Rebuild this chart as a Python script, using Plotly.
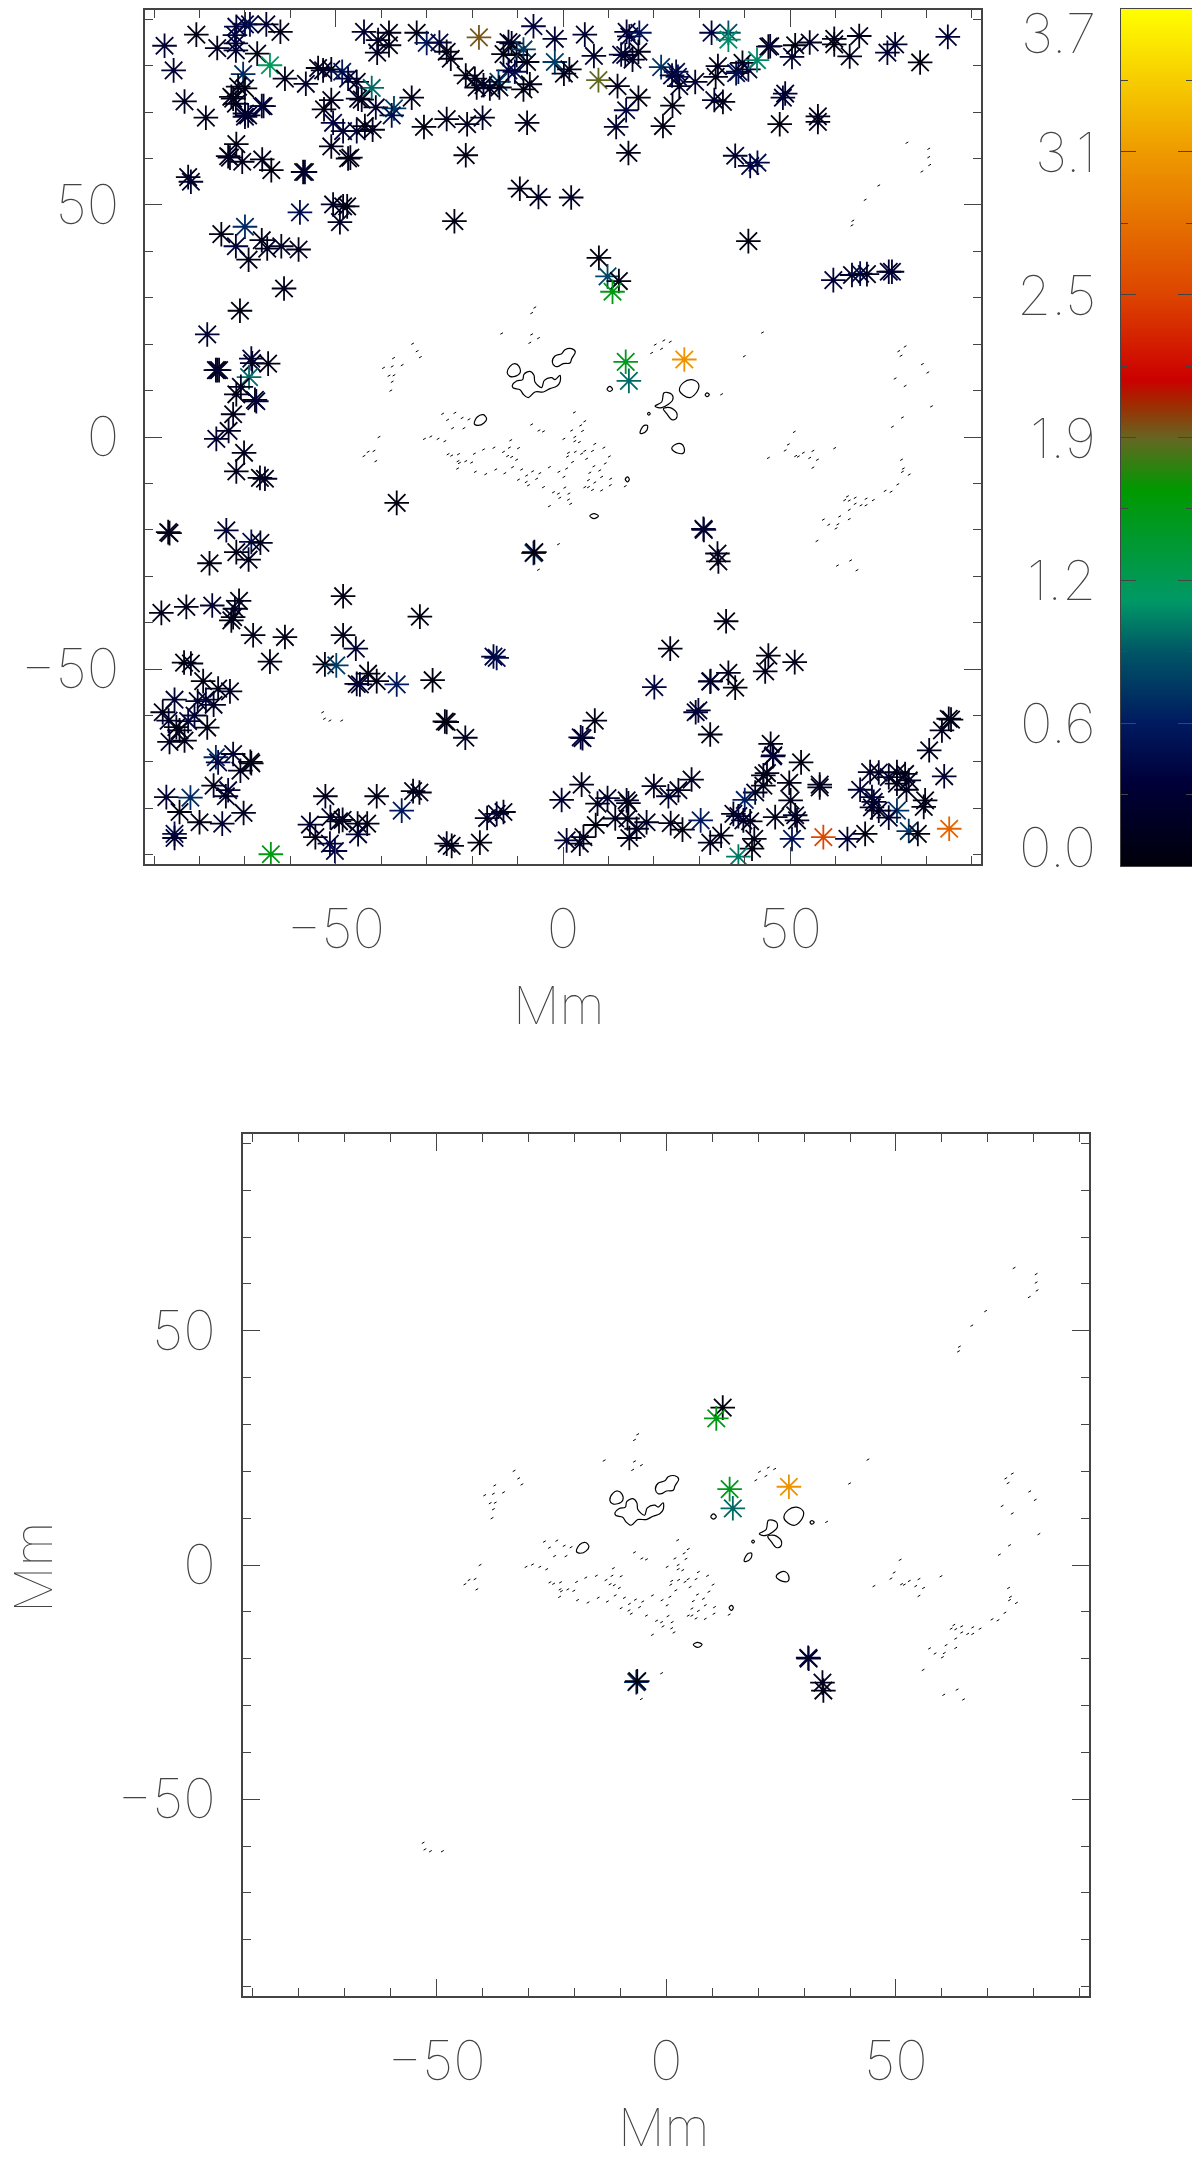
import plotly.graph_objects as go

north_west_x = [-87.7,-80.7,-85.7,-76.1,-71.9,-70.0,-68.9,-72.2,-72.0,-72.0,
                -65.3,-62.2,-67.3,-64.5,-61.2,-56.6,-70.4,-53.9,-52.8,-51.0,
                -48.6,-47.3,-45.4,-42.1,-51.0,-52.6,-45.1,-44.3,-41.2,-37.2,
                -37.7,-33.3,-50.6,-48.4,-45.4,-43.6,-41.9,-51.0,-47.3,-46.8,
                -30.6,-25.6,-21.1,-17.7,-7.9,-21.4,-9.5,-5.4,-23.9,-43.8,
                -40.7,-38.3,-38.3,-40.9,-32.2,-30.0,-27.2,-25.6,-24.7,-18.5,
                -6.5,-12.0,-11.3,-13.1,-10.2,-8.7,-7.9,-10.6,-12.0,-14.2,
                -21.4,-19.4,-19.0,-17.5,-16.1,-14.0,-8.7,-7.3,-72.6,-73.0,
                -70.0,-71.5,-72.0,-70.0,-70.0,-66.3,-65.9,-69.3,-83.3,-78.6,
                -71.9,-73.7,-73.3,-70.6,-66.2,-64.2,-57.2,-56.8,-82.5,-81.9,
                -57.9,-70.0,-75.2,-72.0,-69.2,-66.3,-65.1,-62.0,-58.2,-61.4,
                -50.6,-48.4,-47.5,-49.1]
north_west_y = [84.3,86.7,79.0,83.8,88.4,88.9,88.9,86.6,84.8,83.3,
                88.9,87.3,82.6,80.1,77.2,76.1,78.2,79.5,79.0,79.2,
                78.7,77.2,76.5,75.2,72.6,70.6,72.9,72.7,71.0,70.8,
                69.3,73.1,67.7,65.9,65.9,67.0,66.2,62.6,60.0,60.2,
                66.8,68.5,67.4,68.8,67.7,60.7,53.5,51.7,46.5,87.3,
                85.5,87.1,84.4,82.8,87.1,84.9,85.0,83.0,81.5,86.1,
                88.5,85.1,84.8,82.5,82.3,83.5,80.8,78.7,79.0,76.5,
                77.9,77.2,75.3,75.8,75.1,75.3,74.9,76.0,72.9,73.3,
                75.1,75.5,71.8,69.7,69.0,71.3,71.3,69.3,72.3,68.8,
                63.1,60.5,60.2,59.3,59.8,57.5,57.1,57.1,56.0,55.0,
                48.4,45.3,43.7,41.1,38.2,42.4,40.6,41.1,40.4,32.0,
                50.1,49.7,49.7,46.3]
north_west_v = [.3,.1,.3,.2,.4,.4,.5,.4,.4,.3,
                .3,.1,.1,1.2,.15,.3,.7,.1,.2,.2,
                .6,.4,.2,1.0,.15,.1,.2,.1,.3,.8,
                .5,.15,.4,.35,.3,.1,.15,.15,.1,.1,
                .05,.15,.15,.2,.15,.1,.1,.2,.1,.3,
                .2,.1,.1,.2,.1,.6,.4,.1,.1,1.9,
                .4,.2,.2,.1,.1,.8,.1,.5,.4,.8,
                .1,.1,.1,.2,.2,.1,.1,.1,.05,.1,
                .05,.1,.15,.3,.3,.4,.3,.3,.2,.15,
                .1,.1,.2,.15,.15,.05,.1,.3,.1,.3,
                .5,.7,.1,.35,.15,.1,.2,.2,.15,.15,
                .2,.15,.1,.2]

west_x = [-71.1,-78.3,-76.4,-75.7,-76.1,-68.6,-68.4,-64.9,-69.1,-70.9,
          -71.9,-67.8,-67.5,-72.6,-73.6,-76.3,-70.2,-71.9,-66.7,-65.6,
          -86.9,-86.6,-74.1,-68.6,-66.6,-71.9,-69.2,-77.8]
west_y = [27.2,22.1,14.4,14.4,14.4,16.9,15.9,15.8,12.9,10.8,
          9.2,8.0,7.7,4.9,1.3,-0.4,-3.4,-7.4,-8.8,-9.0,
          -20.5,-20.7,-20.1,-22.6,-22.8,-24.8,-26.4,-27.2]
west_v = [.05,.3,.1,.1,.3,.4,.2,.1,1.0,.2,
          .1,.15,.35,.15,.2,.3,.15,.15,.1,.2,
          .2,.1,.3,.5,.15,.1,.15,.1]

south_west_x = [-88.4,-82.9,-77.2,-71.3,-72.2,-72.6,-73.0,-68.2,-61.2,-48.4,
                -48.4,-45.6,-31.5,-83.4,-81.9,-64.5,-52.4,-49.9,-15.3,-14.6,
                -42.9,-41.0,-45.4,-44.7,-36.6,-28.7,-79.2,-75.9,-73.3,-85.5,
                -80.4,-78.6,-76.9,-81.1,-88.1,-86.8,-82.5,-85.1,-84.4,-78.3,
                -86.6,-83.3,-26.0,-25.6,-21.5,-76.4,-75.9,-72.6,-68.8,-68.6,
                -71.0,-76.9,-73.7,-74.2,-87.3,-82.0,-84.4,-70.3,-80.0,-75.0,
                -85.5,-85.5,-64.3,-52.3,-41.0,-33.0,-31.6,-35.5,-55.7,-51.2,
                -49.3,-48.5,-45.2,-43.1,-54.5,-45.1,-51.3,-50.2,-25.6,-24.5,
                -18.3,-16.7,-14.6,-13.1]
south_west_y = [-37.9,-36.6,-36.3,-35.3,-37.0,-38.8,-39.5,-42.7,-43.1,-34.3,
                -42.7,-45.6,-38.7,-48.6,-48.8,-48.4,-49.0,-49.2,-47.3,-47.6,
                -51.0,-52.6,-53.2,-53.3,-53.3,-52.4,-52.6,-54.2,-54.8,-56.6,
                -56.9,-56.6,-57.7,-60.0,-59.3,-61.1,-61.2,-62.5,-63.2,-62.6,
                -65.7,-65.4,-61.3,-61.4,-64.8,-69.0,-70.1,-68.3,-70.0,-70.3,
                -71.9,-75.1,-76.1,-77.4,-77.6,-77.7,-80.8,-81.0,-83.0,-83.3,
                -85.5,-86.4,-89.9,-77.4,-77.4,-76.3,-76.6,-80.5,-83.5,-81.9,
                -82.8,-82.5,-83.3,-83.3,-86.2,-85.6,-87.6,-89.2,-87.6,-88.1,
                -87.4,-82.1,-81.2,-80.8]
south_west_v = [.15,.1,.3,.1,.2,.1,.1,.15,.1,.1,
                .15,.3,.05,.05,.15,.15,.1,.8,.4,.5,
                .05,.1,.2,.35,.6,.05,.1,.1,.2,.3,
                .2,.4,.2,.3,.1,.3,.4,.1,.1,.1,
                .2,.1,.1,.05,.2,.7,.4,.3,.05,.1,
                .15,.15,.35,.2,.3,.7,.1,.2,.1,.3,
                .5,.3,1.55,.15,.1,.1,.15,.6,.3,.2,
                .15,.15,.1,.1,.1,.3,.4,.4,.2,.1,
                .05,.2,.3,.2]

north_east_x = [-1.8,4.8,-1.8,0.2,1.4,6.8,7.8,12.0,16.6,13.9,
                11.7,22.0,24.1,14.4,14.0,14.6,16.8,16.6,12.8,13.7,
                15.3,21.6,24.9,25.3,24.0,25.6,29.1,32.7,36.4,36.4,
                34.1,33.6,33.3,35.2,38.1,38.6,39.5,40.8,42.7,45.2,
                45.6,50.4,51.1,54.3,59.7,59.7,63.1,65.2,71.4,73.1,
                78.6,84.7,48.9,48.4,47.7,56.1,56.1,37.9,41.2,42.8,
                1.8,40.8,7.9,9.8,12.3,10.9,59.5,63.6,65.4,66.9,
                71.7,72.4]
north_east_y = [85.8,86.7,80.8,78.3,79.2,82.1,76.9,75.6,73.1,70.4,
                66.8,67.0,71.4,61.2,87.3,86.3,87.1,83.0,82.4,82.3,
                81.3,79.7,78.7,77.6,77.9,75.6,76.5,87.1,87.1,85.6,
                79.9,77.6,72.6,72.2,78.4,78.7,80.6,79.2,81.2,84.1,
                84.2,81.9,84.4,85.0,85.8,84.6,82.0,86.4,82.8,84.6,
                80.7,86.2,74.0,73.1,67.4,69.1,67.9,60.6,58.4,59.1,
                51.6,42.2,38.6,34.6,33.6,31.3,33.8,34.9,35.2,35.1,
                35.6,35.6]
north_east_v = [.3,.3,.8,.15,.15,.3,1.85,.15,.05,.4,
                .25,.1,.1,.1,.35,.35,.55,.1,.4,.3,
                .2,.75,.5,.5,.4,.2,.3,.4,.9,1.1,
                .2,.1,.3,.1,.5,.5,.1,.3,1.1,.1,
                .3,.3,.05,.2,.15,.05,.15,.15,.3,.3,
                .05,.35,.3,.35,.05,.15,.15,.3,.4,.45,
                .2,.05,.05,.85,.05,1.55,.35,.2,.5,.2,
                .3,.3]

centre_x = [13.8,14.5,26.7,-36.6,-6.5,-6.3,30.9,31.0,34.0,34.2]
centre_y = [16.2,12.1,16.7,-14.2,-25.0,-24.8,-19.8,-20.0,-25.1,-26.8]
centre_v = [1.5,1.0,3.05,.05,.7,.05,.3,.3,.2,.1]

south_east_x = [35.9,23.6,45.2,51.0,44.5,36.4,32.5,32.4,37.9,20.1,
                7.0,3.9,4.3,29.2,29.8,32.4,45.7,46.2,46.3,52.4,
                44.1,44.9,44.1,42.3,40.0,28.3,25.4,23.2,20.0,4.1,
                -0.3,7.6,9.8,14.0,14.4,11.5,14.2,18.4,16.2,14.6,
                7.2,23.7,26.3,30.3,34.8,32.4,0.8,4.5,3.7,37.5,
                38.6,39.7,41.2,42.1,41.6,38.6,46.7,51.1,51.5,50.1,
                49.8,50.4,57.3,62.6,66.5,56.5,56.5,85.0,76.1,78.1,
                73.5,79.4,79.7,71.7,69.5,65.4,68.0,68.4,68.0,67.6,
                69.5,71.7,73.5,75.3,76.1,73.5,75.6,80.6,83.4,84.9,
                85.4,83.9]
south_east_y = [-39.7,-45.6,-47.1,-48.5,-50.5,-50.8,-52.6,-52.7,-54.0,-53.9,
                -61.1,-64.7,-64.9,-59.3,-58.9,-64.1,-66.1,-68.8,-68.6,-70.1,
                -72.9,-72.4,-75.1,-76.6,-78.2,-73.8,-76.1,-77.4,-75.2,-74.9,
                -78.2,-79.0,-77.8,-78.3,-78.9,-82.2,-82.2,-83.0,-84.4,-86.4,
                -83.6,-83.2,-84.6,-82.6,-85.9,-87.4,-86.9,-86.2,-87.6,-81.2,
                -81.7,-82.6,-82.8,-86.6,-88.7,-90.4,-81.9,-81.5,-82.6,-78.3,
                -74.5,-86.6,-86.2,-86.6,-85.5,-74.9,-75.5,-84.4,-84.9,-85.5,
                -80.5,-79.7,-78.3,-82.0,-80.5,-76.0,-77.6,-78.6,-79.8,-72.2,
                -72.3,-73.3,-72.2,-72.6,-74.0,-74.7,-76.0,-67.5,-63.2,-60.7,
                -60.9,-73.1]
south_east_v = [.1,.1,.1,.15,.15,.15,.35,.2,.05,.4,
                .1,.35,.3,.3,.35,.1,.1,.35,.3,.05,
                .15,.1,.1,.2,.65,.2,.15,.3,.2,.15,
                .35,.15,.3,.2,.1,.15,.15,.2,.2,.15,
                .05,.15,.05,.6,.15,.15,.35,.15,.2,.2,
                .3,.3,.15,.1,.05,1.05,.15,.3,.15,.15,
                .1,.55,2.5,.35,.05,.2,.1,2.7,.75,.05,
                .75,.1,.1,.3,.2,.35,.35,.35,.2,.2,
                .2,.3,.15,.1,.2,.1,.15,.15,.15,.1,
                .1,.3]

# the few asterisks that are left in the lower panel
core_x = [12.3,10.9,13.8,14.5,26.7,-6.5,-6.3,30.9,31.0,34.0,34.2]
core_y = [33.6,31.3,16.2,12.1,16.7,-25.0,-24.8,-19.8,-20.0,-25.1,-26.8]
core_v = [.05,1.55,1.5,1.0,3.05,.7,.05,.3,.3,.2,.1]

# solid contours, as closed outlines
contour_lines = [
    ([-2.35,-1.76,-0.29,0.44,1.91,2.72,1.91,1.54,0.07,-1.03,-1.76,-2.35],
     [16.16,17.46,17.96,18.82,19.04,18.32,16.88,15.95,15.80,15.23,15.23,16.16]),
    ([-12.26,-11.67,-10.57,-9.69,-9.47,-10.57,-11.67,-12.26],
     [13.79,15.23,15.80,15.23,13.79,13.07,13.07,13.79]),
    ([-11.16,-10.21,-8.88,-8.59,-7.27,-6.39,-6.17,-4.70,-4.11,-2.50,-1.76,-0.66,-0.66,-1.40,-2.86,-4.33,-6.17,-7.64,-8.74,-9.47,-10.94,-11.16],
     [11.14,12.07,12.36,13.51,14.15,13.29,11.85,10.63,12.21,12.79,12.36,13.29,11.85,10.92,10.42,9.70,9.70,8.48,9.20,10.20,10.56,11.14]),
    ([25.62,26.51,28.34,29.81,29.59,27.97,26.51,25.62],
     [10.06,11.71,12.36,11.49,9.91,8.48,8.98,10.06]),
    ([20.26,21.73,22.25,23.94,24.16,23.20,21.73,20.48,20.26],
     [6.68,7.54,9.55,9.20,8.05,7.04,6.32,6.47,6.68]),
    ([22.10,23.57,25.04,24.89,23.94,22.83,22.10],
     [6.11,6.32,5.17,3.95,3.74,5.03,6.11]),
    ([16.96,17.69,18.58,18.43,17.33,16.96],
     [0.86,2.37,2.51,1.44,0.72,0.86]),
    ([23.94,24.82,25.92,26.65,26.51,25.18,23.94],
     [-2.51,-1.58,-1.44,-2.30,-3.45,-3.45,-2.51]),
    ([-19.53,-18.87,-17.55,-16.81,-17.40,-18.65,-19.53],
     [2.87,4.31,4.81,3.95,3.02,2.51,2.87]),
    ([9.7,10.3,10.9,10.3,9.7], [10.3,10.9,10.3,9.8,10.3]),
    ([31.3,31.7,32.2,31.7,31.3], [9.1,9.5,9.1,8.7,9.1]),
    ([18.6,18.9,19.2,18.9,18.6], [5.0,5.3,5.0,4.7,5.0]),
    ([13.7,14.2,14.6,14.2,13.7], [-9.1,-8.6,-9.1,-9.7,-9.1]),
    ([5.9,6.8,7.8,6.8,5.9], [-17.0,-16.5,-17.0,-17.6,-17.0]),
]

# negative contour, only little dashes of it show
dash_x = [-6.2,-6.9,-13.5,-6.9,-5.4,-7.3,-33.1,-32.1,-31.4,-37.3,-39.5,-37.6,-35.4,-38.3,-37.2,-37.6,-37.9,
          22.2,23.6,20.3,21.7,19.5,34.9,-26.5,-23.8,-22.2,-20.7,-25.4,-24.3,-21.8,-6.9,-5.3,-4.3,
          2.5,4.8,3.9,1.9,4.3,0.2,2.6,2.6,3.6,-40.5,-30.5,-29.1,-27.5,-26.0,-41.6,-42.9,-43.8,-41.2,
          -11.5,-11.8,-9.8,-13.1,-12.2,-11.3,-10.2,-25.3,-24.5,-23.0,-23.1,-22.8,-21.4,-20.1,-19.5,-17.5,-15.2,
          -23.2,-19.3,-17.0,-14.8,-12.8,-11.1,-9.1,-8.0,-6.7,-5.1,-3.0,-0.9,0.8,
          1.2,1.0,2.7,2.1,4.1,4.8,6.5,7.0,9.0,10.2,9.3,5.2,6.8,8.1,5.9,8.5,10.5,5.6,7.0,5.6,4.8,6.5,8.5,10.4,
          -9.8,-8.1,-7.6,-5.8,-4.3,-2.1,-1.0,0.2,0.4,-0.7,1.3,1.2,1.7,-3.0,13.7,-1.0,-5.4,
          75.7,80.5,80.5,80.7,79.0,69.5,66.5,63.8,63.6,-52.9,-52.5,-51.3,-48.7,
          43.9,39.9,75.3,73.9,74.4,79.1,80.3,73.1,75.3,81.1,74.7,72.5,50.9,49.6,48.9,45.2,51.2,51.8,52.9,55.0,54.3,56.0,55.0,59.8,
          74.5,74.9,74.7,76.2,73.7,70.9,72.2,62.6,62.0,63.0,64.3,64.3,66.7,68.3,65.6,66.7,63.0,60.9,63.0,57.3,58.5,60.5,60.1,55.9,60.4,63.3,64.7]
dash_y = [27.9,26.7,22.3,22.1,21.3,20.3,20.1,18.5,17.2,17.0,14.9,15.2,15.5,13.2,13.3,11.9,10.0,
          20.8,20.5,19.9,19.0,18.1,9.2,5.0,5.2,4.1,3.8,3.7,1.9,1.9,2.7,1.4,1.2,
          5.3,3.4,2.5,1.4,1.3,-0.4,0.0,-0.9,-1.1,0.0,-0.4,0.1,-0.4,-0.9,-3.0,-3.2,-4.1,-5.2,
          -0.7,-2.3,-2.4,-3.2,-4.1,-4.3,-4.9,-3.7,-4.0,-3.7,-5.2,-5.6,-5.2,-5.5,-3.6,-2.7,-2.3,
          -6.8,-7.5,-8.0,-7.0,-7.8,-6.5,-7.0,-8.3,-7.4,-7.8,-6.5,-7.5,-6.8,
          -3.4,-4.2,-3.2,-5.4,-3.6,-3.0,-3.0,-1.5,-2.3,-4.2,-5.7,-4.7,-6.3,-7.2,-7.7,-8.6,-9.0,-9.3,-9.8,-10.8,-10.8,-11.4,-11.5,-10.4,
          -9.2,-9.7,-10.4,-9.0,-10.8,-11.9,-12.2,-8.6,-10.9,-13.1,-12.2,-13.5,-14.4,-14.9,-10.6,-23.1,-28.6,
          63.4,62.1,60.3,58.6,57.2,54.2,51.1,46.6,45.6,-59.3,-60.7,-61.1,-61.1,
          22.5,17.4,19.5,18.5,17.5,15.7,13.9,12.6,11.0,6.6,4.2,2.2,1.1,-1.6,-2.9,-4.5,-4.1,-4.2,-3.4,-3.0,-4.5,-4.9,-6.6,-2.4,
          -4.9,-6.8,-7.5,-8.1,-10.2,-11.6,-11.8,-12.8,-13.6,-13.7,-13.1,-14.4,-13.3,-13.6,-14.7,-14.7,-15.7,-17.1,-17.7,-17.8,-18.9,-18.8,-19.7,-22.4,-27.7,-26.6,-28.7]

star_x = north_west_x + west_x + south_west_x + north_east_x + centre_x + south_east_x
star_y = north_west_y + west_y + south_west_y + north_east_y + centre_y + south_east_y
star_v = north_west_v + west_v + south_west_v + north_east_v + centre_v + south_east_v

# colour bar
cbar_levels = [0, .31, .62, .93, 1.24, 1.55, 1.86, 2.17, 2.48, 2.79, 3.1, 3.41, 3.72]
cbar_labels = ['0.0', '0.6', '1.2', '1.9', '2.5', '3.1', '3.7']
cbar_minor = [.31, .93, 1.55, 2.17, 2.79, 3.41]
cbar_major = [.62, 1.24, 1.86, 2.48, 3.1]
colors = [[0, '#00000a'], [.1, '#00003a'], [.1676, '#001a60'], [.25, '#005566'],
          [.31, '#009966'], [.44, '#009900'], [.5, '#666622'], [.54, '#a02a00'],
          [.568, '#cc0000'], [.667, '#dd4400'], [.75, '#e57000'], [.832, '#ee9900'],
          [1, '#ffff00']]
CMAX = 3.72

major_ticks = [-50, 0, 50]
major_text = ['\u221250', '0', '50']
minor_ticks = [-90, -80, -70, -60, -40, -30, -20, -10, 10, 20, 30, 40, 60, 70, 80, 90]

LINE = '#444444'
FONT = dict(family='Inter', size=55, color='#444444', weight=100)
TITLE_FONT = dict(FONT, size=52)

# the page keeps an 8px body margin, so everything is placed relative to that
PAD = 8
W, H = 1192, 2152


def xfrac(px):
    return (px - PAD) / W


def yfrac(px):
    return 1 - (px - PAD) / H


def panel_axis(domain, standoff):
    return dict(domain=domain, range=[-92, 92], showgrid=False, zeroline=False,
                showline=True, linecolor=LINE, linewidth=1.5, mirror='ticks',
                ticks='inside', ticklen=17, tickwidth=1, tickcolor=LINE,
                tickvals=major_ticks, ticktext=major_text, tickfont=FONT,
                ticklabelstandoff=standoff,
                minor=dict(tickvals=minor_ticks, ticks='inside', ticklen=8,
                           tickwidth=1, tickcolor=LINE))


def add_contours(fig, xaxis, yaxis):
    for xs, ys in contour_lines:
        fig.add_trace(go.Scatter(x=xs, y=ys, mode='lines', xaxis=xaxis, yaxis=yaxis,
                                 line=dict(color='black', width=1.2, shape='spline')))
    fig.add_trace(go.Scatter(x=dash_x, y=dash_y, mode='markers', xaxis=xaxis, yaxis=yaxis,
                             marker=dict(symbol='line-ew-open', size=2.2, angle=-30, color='black',
                                         line=dict(width=1))))


def add_stars(fig, xs, ys, vs, xaxis, yaxis):
    fig.add_trace(go.Scatter(x=xs, y=ys, mode='markers', xaxis=xaxis, yaxis=yaxis,
                             marker=dict(symbol='asterisk-open', size=20.5, color=vs,
                                         colorscale=colors, cmin=0, cmax=CMAX,
                                         line=dict(width=1.8))))


fig = go.Figure()
add_contours(fig, 'x', 'y')
add_stars(fig, star_x, star_y, star_v, 'x', 'y')
add_contours(fig, 'x2', 'y2')
add_stars(fig, core_x, core_y, core_v, 'x2', 'y2')

fig.add_trace(go.Heatmap(x=[0, 1], y=cbar_levels, z=[[v, v] for v in cbar_levels],
                         xaxis='x3', yaxis='y3', zsmooth='best', showscale=False,
                         colorscale=colors, zmin=0, zmax=CMAX))

fig.update_layout(
    width=W, height=H, autosize=False, showlegend=False,
    margin=dict(l=0, r=0, t=0, b=0),
    paper_bgcolor='white', plot_bgcolor='white', font=FONT,
    xaxis=panel_axis([xfrac(145), xfrac(981)], 16),
    yaxis=panel_axis([yfrac(864), yfrac(10)], 13),
    xaxis2=dict(panel_axis([xfrac(243.4), xfrac(1089)], 16), anchor='y2'),
    yaxis2=dict(panel_axis([yfrac(1996), yfrac(1134)], 15), anchor='x2'),
    xaxis3=dict(domain=[xfrac(1121), xfrac(1193)], range=[0, 1], anchor='y3', showticklabels=False,
                showgrid=False, zeroline=False, ticks='', showline=True, linecolor=LINE,
                linewidth=1, mirror=True),
    yaxis3=dict(domain=[yfrac(866), yfrac(9)], range=[0, CMAX], anchor='x3',
                showticklabels=False, showgrid=False, zeroline=False, showline=True,
                linecolor=LINE, linewidth=1, mirror='ticks', ticks='inside', ticklen=15,
                tickwidth=1, tickcolor=LINE, tickvals=cbar_major,
                minor=dict(tickvals=cbar_minor, ticks='inside', ticklen=7, tickwidth=1,
                           tickcolor=LINE)),
)

# colour bar labels sit left of it, the two end ones pulled inward
label_levels = [0, .62, 1.24, 1.86, 2.48, 3.1, 3.72]
label_shift = [19, 0, 0, 0, 0, 0, -24]
for lev, txt, sh in zip(label_levels, cbar_labels, label_shift):
    fig.add_annotation(x=xfrac(1098), xref='paper', y=lev, yref='y3', yshift=sh, text=txt,
                       showarrow=False, xanchor='right', yanchor='middle', font=FONT)

for tx, ty, ang in [(559, 1005, 0), (664, 2127, 0), (33, 1567, -90)]:
    fig.add_annotation(x=xfrac(tx), y=yfrac(ty), xref='paper', yref='paper', text='Mm',
                       showarrow=False, textangle=ang, xanchor='center', yanchor='middle',
                       font=TITLE_FONT)

fig.write_html("out.html")
